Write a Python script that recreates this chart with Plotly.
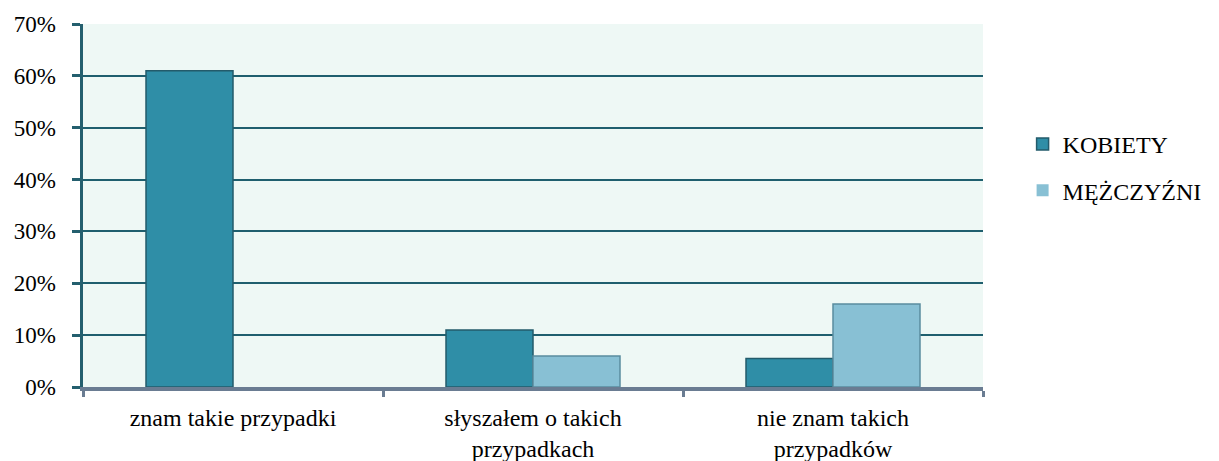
import plotly.graph_objects as go

categories = ["znam takie przypadki", "słyszałem o takich<br>przypadkach", "nie znam takich<br>przypadków"]
kobiety = [0.61, 0.11, 0.055]
mezczyzni = [0.0, 0.06, 0.16]
series_names = ["KOBIETY", "MĘŻCZYŹNI"]

FONT = "Liberation Serif"

fig = go.Figure()
fig.add_trace(go.Bar(
    x=categories, y=kobiety, name=series_names[0], legendgroup="k",
    marker=dict(color="#2F8EA7", line=dict(color="#235B6B", width=1.5)),
))
fig.add_trace(go.Bar(
    x=categories, y=mezczyzni, name=series_names[1], legendgroup="m",
    marker=dict(color="#88C0D4", line=dict(color="#5A8C9E", width=[0, 1.5, 1.5])),
))

fig.update_layout(
    width=1219, height=461,
    margin=dict(l=75, r=244, t=16, b=82, autoexpand=False),
    paper_bgcolor="white",
    plot_bgcolor="#EEF8F5",
    barmode="group",
    bargap=0.42,
    bargroupgap=0,
    font=dict(family=FONT, size=22, color="black"),
    showlegend=True,
    legend=dict(
        x=1.044, y=0.605, xanchor="left", yanchor="middle",
        font=dict(family=FONT, size=24, color="black"),
        bgcolor="rgba(0,0,0,0)",
        tracegroupgap=12,
    ),
)
fig.update_yaxes(
    range=[0, 0.7], dtick=0.1, tickformat=".0%", ticksuffix="\u2002",
    showgrid=True, gridcolor="#1F5F6E", gridwidth=2,
    showline=True, linecolor="#245F6E", linewidth=3,
    ticks="outside", ticklen=8, tickwidth=3, tickcolor="#245F6E",
    zeroline=False, fixedrange=True, automargin=False,
    tickfont=dict(family=FONT, size=23, color="black"),
)
fig.update_xaxes(
    showline=True, linecolor="#6A7C92", linewidth=4,
    ticks="outside", ticklen=6, tickwidth=3, tickcolor="#6A7C92",
    tickson="boundaries", automargin=False, ticklabelstandoff=6,
    showgrid=False, mirror=False,
    tickfont=dict(family=FONT, size=24, color="black"),
)

fig.write_html("out.html")
